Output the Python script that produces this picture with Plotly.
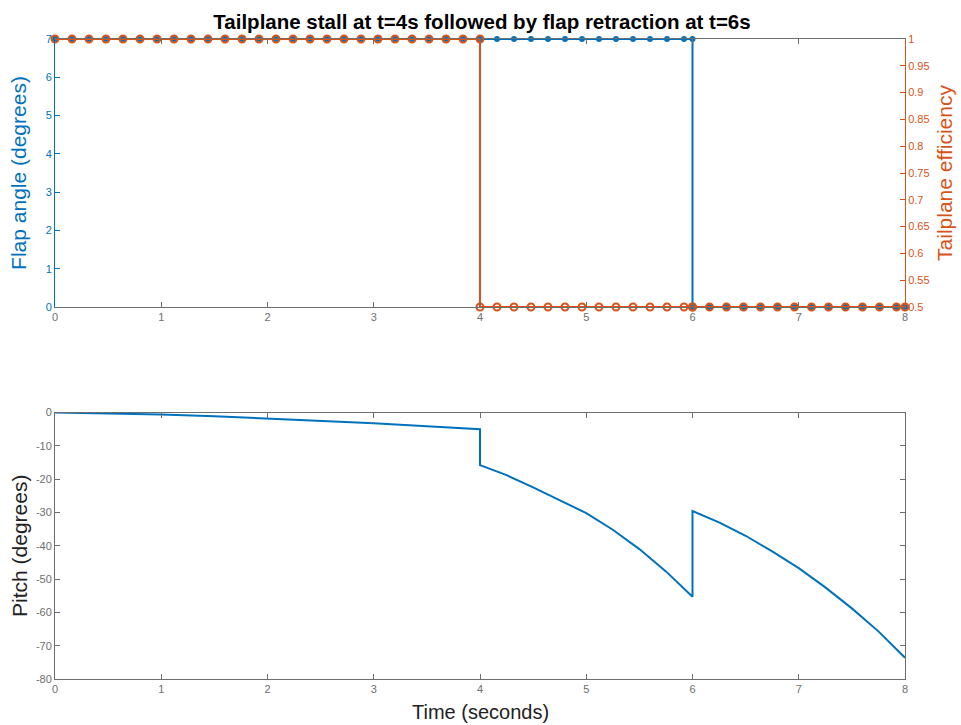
import plotly.graph_objects as go

# ---- data ----
time_top = [0.00, 0.16, 0.32, 0.48, 0.64, 0.80, 0.96, 1.12, 1.28, 1.44, 1.60, 1.76, 1.92,
            2.08, 2.24, 2.40, 2.56, 2.72, 2.88, 3.04, 3.20, 3.36, 3.52, 3.68, 3.84, 4.00,
            4.00, 4.16, 4.32, 4.48, 4.64, 4.80, 4.96, 5.12, 5.28, 5.44, 5.60, 5.76, 5.92, 6.00,
            6.00, 6.16, 6.32, 6.48, 6.64, 6.80, 6.96, 7.12, 7.28, 7.44, 7.60, 7.76, 7.92, 8.00]
flap_angle = [7] * 26 + [7] * 14 + [0] * 14
tail_eff = [1] * 26 + [0.5] * 14 + [0.5] * 14

time_pitch = [0.0, 0.5, 1.0, 1.5, 2.0, 2.5, 3.0, 3.5, 4.0,
              4.0, 4.25, 4.5, 4.75, 5.0, 5.25, 5.5, 5.75, 6.0,
              6.0, 6.25, 6.5, 6.75, 7.0, 7.25, 7.5, 7.75, 8.0]
pitch = [0.0, -0.25, -0.6, -1.15, -1.8, -2.5, -3.2, -4.1, -5.0,
         -15.8, -18.8, -22.5, -26.3, -30.2, -35.2, -41.0, -47.7, -55.3,
         -29.6, -33.0, -37.0, -41.7, -46.7, -52.5, -58.8, -65.7, -73.6]

x_ticks = [0, 1, 2, 3, 4, 5, 6, 7, 8]
flap_ticks = [0, 1, 2, 3, 4, 5, 6, 7]
eff_ticks = [0.5, 0.55, 0.6, 0.65, 0.7, 0.75, 0.8, 0.85, 0.9, 0.95, 1]
eff_labels = ["0.5", "0.55", "0.6", "0.65", "0.7", "0.75", "0.8", "0.85", "0.9", "0.95", "1"]
pitch_ticks = [-80, -70, -60, -50, -40, -30, -20, -10, 0]
pitch_labels = ["-80", "-70", "-60", "-50", "-40", "-30", "-20", "-10", "0"]

BLUE = "#0072BD"
ORANGE = "#D95319"
GRAY = "#6e6e6e"
FONT = "Liberation Sans, Arial, Helvetica, sans-serif"
TICK = 11
LAB = 21

W, H = 961, 725
ML, MR, MT, MB = 55, 961 - 905, 39, 725 - 679
PH = H - MT - MB

def dy(p):
    return 1 - (p - MT) / PH

fig = go.Figure()

fig.add_trace(go.Scatter(
    x=time_top, y=flap_angle, mode="lines+markers", xaxis="x", yaxis="y",
    line=dict(color=BLUE, width=2), marker=dict(color=BLUE, size=6, symbol="circle"),
    cliponaxis=False, showlegend=False, name="Flap angle"))
fig.add_trace(go.Scatter(
    x=time_top, y=tail_eff, mode="lines+markers", xaxis="x", yaxis="y2",
    line=dict(color=ORANGE, width=2),
    marker=dict(color=ORANGE, size=7, symbol="circle-open", line=dict(width=2, color=ORANGE)),
    cliponaxis=False, showlegend=False, name="Tailplane efficiency"))
fig.add_trace(go.Scatter(
    x=time_pitch, y=pitch, mode="lines", xaxis="x2", yaxis="y3",
    line=dict(color=BLUE, width=2), showlegend=False, name="Pitch"))

common_x = dict(range=[0, 8], tickvals=x_ticks, ticks="inside", ticklen=5, tickcolor=GRAY,
                showline=True, linecolor=GRAY, linewidth=1, mirror="ticks", showgrid=False,
                zeroline=False, automargin=False,
                tickfont=dict(size=TICK, color=GRAY, family=FONT))

fig.update_layout(
    width=W, height=H, margin=dict(l=ML, r=MR, t=MT, b=MB, autoexpand=False),
    paper_bgcolor="white", plot_bgcolor="white",
    font=dict(family=FONT),
    title=dict(text="<b>Tailplane stall at t=4s followed by flap retraction at t=6s</b>",
               x=482 / W, y=1 - 22 / H, xref="container", yref="container",
               xanchor="center", yanchor="middle",
               font=dict(size=20.5, color="black", family=FONT)),
    xaxis=dict(domain=[0, 1], anchor="y", **common_x),
    yaxis=dict(domain=[dy(307), 1], range=[0, 7], tickvals=flap_ticks,
               ticks="inside", ticklen=5, tickcolor=BLUE, showline=True, linecolor=BLUE,
               linewidth=1, showgrid=False, zeroline=False, automargin=False,
               tickfont=dict(size=TICK, color=BLUE, family=FONT),
               title=dict(text="Flap angle (degrees)", font=dict(size=LAB, color=BLUE, family=FONT),
                          standoff=13)),
    yaxis2=dict(overlaying="y", side="right", anchor="x", range=[0.5, 1],
                tickvals=eff_ticks, ticktext=eff_labels,
                ticks="inside", ticklen=5, tickcolor=ORANGE, showline=True, linecolor=ORANGE,
                linewidth=1, showgrid=False, zeroline=False, automargin=False,
                tickfont=dict(size=TICK, color=ORANGE, family=FONT),
                title=dict(text="Tailplane efficiency", font=dict(size=LAB, color=ORANGE, family=FONT),
                           standoff=8)),
    xaxis2=dict(domain=[0, 1], anchor="y3", **common_x),
    yaxis3=dict(domain=[0, dy(412.5)], anchor="x2", range=[-80, 0],
                tickvals=pitch_ticks, ticktext=pitch_labels, ticks="inside", ticklen=5,
                tickcolor=GRAY, showline=True, linecolor=GRAY, linewidth=1, mirror="ticks",
                showgrid=False, zeroline=False, automargin=False,
                tickfont=dict(size=TICK, color=GRAY, family=FONT),
                title=dict(text="Pitch (degrees)", font=dict(size=LAB, color="#222", family=FONT),
                           standoff=2)),
    annotations=[dict(text="Time (seconds)", xref="paper", yref="paper",
                      x=(480 - ML) / (W - ML - MR), y=-(712 - (H - MB)) / PH,
                      xanchor="center", yanchor="middle", showarrow=False,
                      font=dict(size=20, color="#222", family=FONT))],
)

fig.write_html("out.html", config={"displayModeBar": False},
               post_script="document.body.style.margin='0px';")
